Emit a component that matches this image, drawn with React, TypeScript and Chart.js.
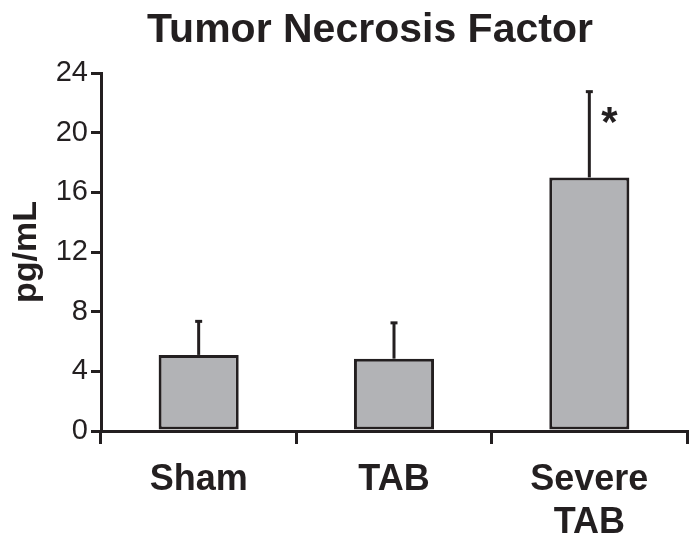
import React, { useEffect, useRef } from "react";
import { Chart, registerables } from "chart.js";

Chart.register(...registerables);

const categories: string[][] = [["Sham"], ["TAB"], ["Severe", "TAB"]];
const means: number[] = [5.1, 4.85, 17.0];
const errors: number[] = [2.25, 2.4, 5.75];
const significant: boolean[] = [false, false, true];
const yMin = 0;
const yMax = 24;
const yStep = 4;
const titleText = "Tumor Necrosis Factor";
const yTitle = "pg/mL";

const FONT = "'Liberation Sans', Arial, Helvetica, sans-serif";
const INK = "#231f20";

const extrasPlugin = {
  id: "extras",
  afterDatasetsDraw(chart: any) {
    const { ctx } = chart;
    const meta = chart.getDatasetMeta(0);
    const yScale = chart.scales.y;
    ctx.save();
    ctx.strokeStyle = INK;
    ctx.fillStyle = INK;
    meta.data.forEach((bar: any, i: number) => {
      const x = bar.x;
      const yTop = yScale.getPixelForValue(means[i]);
      const yErr = yScale.getPixelForValue(means[i] + errors[i]);
      ctx.lineWidth = 3;
      ctx.beginPath();
      ctx.moveTo(x, yTop);
      ctx.lineTo(x, yErr);
      ctx.stroke();
      ctx.lineWidth = 3;
      ctx.beginPath();
      ctx.moveTo(x - 3.5, yErr);
      ctx.lineTo(x + 3.5, yErr);
      ctx.stroke();
      if (significant[i]) {
        ctx.font = `bold 42px ${FONT}`;
        ctx.textAlign = "center";
        ctx.textBaseline = "alphabetic";
        ctx.fillText("*", x + 20, yErr + 44);
      }
    });
    // title
    ctx.font = `bold 41px ${FONT}`;
    ctx.textAlign = "center";
    ctx.textBaseline = "alphabetic";
    ctx.fillText(titleText, 362, 34);
    ctx.restore();
  },
};

export default function App() {
  const ref = useRef<HTMLCanvasElement | null>(null);
  useEffect(() => {
    if (!ref.current) return;
    const chart = new Chart(ref.current, {
      type: "bar",
      data: {
        labels: categories,
        datasets: [
          {
            data: means,
            backgroundColor: "#b2b3b6",
            borderColor: INK,
            borderWidth: 3,
            borderSkipped: false,
            barPercentage: 0.41,
            categoryPercentage: 1,
          },
        ],
      },
      options: {
        animation: false,
        responsive: false,
        maintainAspectRatio: false,
        layout: { padding: { top: 65, right: 5, left: 0, bottom: 0 } },
        plugins: {
          legend: { display: false },
          tooltip: { enabled: false },
          title: { display: false },
        },
        scales: {
          x: {
            offset: true,
            grid: {
              display: true,
              offset: true,
              drawOnChartArea: false,
              drawTicks: true,
              tickLength: 13,
              color: INK,
              lineWidth: 3,
            },
            border: { display: true, color: INK, width: 3 },
            ticks: {
              color: INK,
              font: { family: FONT, size: 36, weight: "bold", lineHeight: 1.2 },
              padding: 14,
              maxRotation: 0,
              autoSkip: false,
            },
            afterFit(scale: any) {
              scale.height = 108;
            },
          },
          y: {
            min: yMin,
            max: yMax,
            grid: {
              display: true,
              drawOnChartArea: false,
              drawTicks: true,
              tickLength: 10,
              color: INK,
              lineWidth: 3,
            },
            border: { display: true, color: INK, width: 3 },
            ticks: {
              stepSize: yStep,
              color: INK,
              font: { family: FONT, size: 29 },
              padding: 3,
            },
            title: {
              display: true,
              text: yTitle,
              color: INK,
              font: { family: FONT, size: 34, weight: "bold", lineHeight: 1 },
              padding: { top: 2, bottom: 0 },
            },
            afterFit(scale: any) {
              scale.width = 93;
            },
          },
        },
      },
      plugins: [extrasPlugin],
    });
    return () => chart.destroy();
  }, []);
  return (
    <div style={{ width: 684, height: 531 }}>
      <canvas ref={ref} width={684} height={531} style={{ display: "block" }} />
    </div>
  );
}
